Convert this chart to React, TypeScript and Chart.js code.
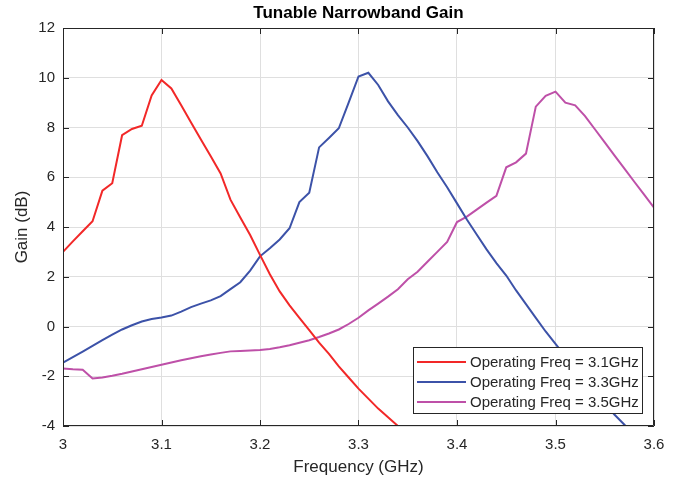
import React, { useEffect, useRef } from 'react';
import { Chart, registerables } from 'chart.js';

Chart.register(...registerables);

const freqGHz = [
  3.00, 3.01, 3.02, 3.03, 3.04, 3.05, 3.06, 3.07, 3.08, 3.09,
  3.10, 3.11, 3.12, 3.13, 3.14, 3.15, 3.16, 3.17, 3.18, 3.19,
  3.20, 3.21, 3.22, 3.23, 3.24, 3.25, 3.26, 3.27, 3.28, 3.29,
  3.30, 3.31, 3.32, 3.33, 3.34, 3.35, 3.36, 3.37, 3.38, 3.39,
  3.40, 3.41, 3.42, 3.43, 3.44, 3.45, 3.46, 3.47, 3.48, 3.49,
  3.50, 3.51, 3.52, 3.53, 3.54, 3.55, 3.56, 3.57, 3.58, 3.59,
  3.60,
];

const gain31 = [
  3.0, 3.42, 3.83, 4.23, 5.46, 5.76, 7.69, 7.94, 8.07, 9.29,
  9.91, 9.57, 8.89, 8.2, 7.52, 6.84, 6.15, 5.1, 4.38, 3.68,
  2.88, 2.1, 1.41, 0.85, 0.35, -0.15, -0.65, -1.1, -1.6, -2.05,
  -2.5, -2.9, -3.3, -3.65, -4.0, -4.35, null, null, null, null,
  null, null, null, null, null, null, null, null, null, null,
  null, null, null, null, null, null, null, null, null, null,
  null,
];

const gain33 = [
  -1.45, -1.23, -1.01, -0.78, -0.55, -0.33, -0.12, 0.05, 0.2, 0.3,
  0.36, 0.44, 0.6, 0.78, 0.92, 1.05, 1.22, 1.5, 1.78, 2.25,
  2.82, 3.15, 3.5, 3.95, 5.0, 5.38, 7.2, 7.58, 7.97, 9.0,
  10.05, 10.2, 9.71, 9.05, 8.5, 8.0, 7.45, 6.85, 6.2, 5.6,
  4.95, 4.3, 3.7, 3.1, 2.55, 2.05, 1.45, 0.9, 0.35, -0.2,
  -0.7, -1.2, -1.7, -2.2, -2.65, -3.1, -3.55, -3.95, -4.4, null,
  null,
];

const gain35 = [
  -1.69, -1.72, -1.74, -2.09, -2.05, -1.98, -1.9, -1.81, -1.72, -1.63,
  -1.54, -1.45, -1.36, -1.28, -1.2, -1.13, -1.06, -1.0, -0.98, -0.96,
  -0.94, -0.9, -0.83, -0.75, -0.65, -0.55, -0.42, -0.28, -0.12, 0.1,
  0.35, 0.65, 0.92, 1.2, 1.5, 1.9, 2.2, 2.6, 3.0, 3.4,
  4.2, 4.42, 4.7, 4.98, 5.25, 6.4, 6.6, 6.95, 8.84, 9.27,
  9.44, 9.0, 8.89, 8.46, 7.93, 7.4, 6.87, 6.35, 5.82, 5.3,
  4.78,
];

const seriesLabels = [
  'Operating Freq = 3.1GHz',
  'Operating Freq = 3.3GHz',
  'Operating Freq = 3.5GHz',
];
const seriesColors = ['rgb(242,40,40)', 'rgb(60,82,168)', 'rgb(190,80,168)'];

const xTickValues = [3.0, 3.1, 3.2, 3.3, 3.4, 3.5, 3.6];
const xTickLabels = ['3', '3.1', '3.2', '3.3', '3.4', '3.5', '3.6'];
const yTickValues = [-4, -2, 0, 2, 4, 6, 8, 10, 12];
const yTickLabels = ['-4', '-2', '0', '2', '4', '6', '8', '10', '12'];

const chartTitle = 'Tunable Narrowband Gain';
const xTitle = 'Frequency (GHz)';
const yTitle = 'Gain (dB)';

const FONT = "'Liberation Sans', Arial, Helvetica, sans-serif";
const AXIS_COLOR = '#262626';
const GRID_COLOR = '#dfdfdf';

const toPoints = (vals: (number | null)[]) =>
  freqGHz.map((f, i) => ({ x: f, y: vals[i] }));

const boxPlugin = {
  id: 'matlabBox',
  afterDatasetsDraw(chart: any) {
    const { ctx, chartArea, scales } = chart;
    const { left, right, top, bottom } = chartArea;
    ctx.save();
    ctx.strokeStyle = AXIS_COLOR;
    ctx.lineWidth = 1;
    ctx.beginPath();
    ctx.rect(Math.round(left) + 0.5, Math.round(top) + 0.5, Math.round(right - left) - 1, Math.round(bottom - top) - 1);
    ctx.stroke();
    const tl = 6;
    ctx.beginPath();
    xTickValues.forEach((v) => {
      const px = Math.round(scales.x.getPixelForValue(v)) + 0.5;
      ctx.moveTo(px, bottom);
      ctx.lineTo(px, bottom - tl);
      ctx.moveTo(px, top);
      ctx.lineTo(px, top + tl);
    });
    yTickValues.forEach((v) => {
      const py = Math.round(scales.y.getPixelForValue(v)) + 0.5;
      ctx.moveTo(left, py);
      ctx.lineTo(left + tl, py);
      ctx.moveTo(right, py);
      ctx.lineTo(right - tl, py);
    });
    ctx.stroke();

    // title
    ctx.fillStyle = '#000';
    ctx.font = `bold 17px ${FONT}`;
    ctx.textAlign = 'center';
    ctx.textBaseline = 'middle';
    ctx.fillText(chartTitle, (left + right) / 2, 13);

    // legend
    const bx = 413, by = 347, bw = 229, bh = 66;
    ctx.fillStyle = '#fff';
    ctx.fillRect(bx, by, bw, bh);
    ctx.strokeStyle = AXIS_COLOR;
    ctx.lineWidth = 1;
    ctx.strokeRect(bx + 0.5, by + 0.5, bw, bh);
    const rows = [362, 382, 402];
    ctx.font = `15px ${FONT}`;
    ctx.textAlign = 'left';
    ctx.textBaseline = 'middle';
    seriesLabels.forEach((lab, i) => {
      ctx.strokeStyle = seriesColors[i];
      ctx.lineWidth = 2;
      ctx.beginPath();
      ctx.moveTo(417, rows[i]);
      ctx.lineTo(466, rows[i]);
      ctx.stroke();
      ctx.fillStyle = AXIS_COLOR;
      ctx.fillText(lab, 470, rows[i] + 1);
    });
    ctx.restore();
  },
};

export default function App() {
  const ref = useRef<HTMLCanvasElement | null>(null);
  useEffect(() => {
    if (!ref.current) return;
    const chart = new Chart(ref.current, {
      type: 'line',
      data: {
        datasets: [gain31, gain33, gain35].map((vals, i) => ({
          label: seriesLabels[i],
          data: toPoints(vals),
          borderColor: seriesColors[i],
          backgroundColor: seriesColors[i],
          borderWidth: 2,
          pointRadius: 0,
          tension: 0,
          spanGaps: false,
          fill: false,
        })),
      },
      options: {
        animation: false,
        responsive: false,
        layout: { padding: { left: 0, right: 37, top: 28, bottom: 0 } },
        plugins: {
          legend: { display: false },
          title: { display: false },
          tooltip: { enabled: false },
        },
        scales: {
          x: {
            type: 'linear',
            min: 3.0,
            max: 3.6,
            afterBuildTicks: (s: any) => {
              s.ticks = xTickValues.map((v) => ({ value: v }));
            },
            afterFit: (s: any) => {
              s.height = 54;
            },
            ticks: {
              autoSkip: false,
              maxRotation: 0,
              padding: 10,
              color: AXIS_COLOR,
              font: { family: FONT, size: 15 },
              callback: (_v: any, i: number) => xTickLabels[i],
            },
            grid: { color: GRID_COLOR, drawTicks: false, lineWidth: 1 },
            border: { display: false },
            title: {
              display: true,
              text: xTitle,
              color: AXIS_COLOR,
              font: { family: FONT, size: 17 },
              padding: { top: 0, bottom: 2 },
            },
          },
          y: {
            type: 'linear',
            min: -4,
            max: 12,
            afterBuildTicks: (s: any) => {
              s.ticks = yTickValues.map((v) => ({ value: v }));
            },
            afterFit: (s: any) => {
              s.width = 63;
            },
            ticks: {
              autoSkip: false,
              padding: 8,
              color: AXIS_COLOR,
              font: { family: FONT, size: 15 },
              callback: (_v: any, i: number) => yTickLabels[i],
            },
            grid: { color: GRID_COLOR, drawTicks: false, lineWidth: 1 },
            border: { display: false },
            title: {
              display: true,
              text: yTitle,
              color: AXIS_COLOR,
              font: { family: FONT, size: 17 },
              padding: { top: 12, bottom: 0 },
            },
          },
        },
      },
      plugins: [boxPlugin],
    });
    return () => chart.destroy();
  }, []);
  return (
    <div style={{ position: 'absolute', left: 0, top: 0, width: 691, height: 480, background: '#fff' }}>
      <canvas ref={ref} width={691} height={480} />
    </div>
  );
}
